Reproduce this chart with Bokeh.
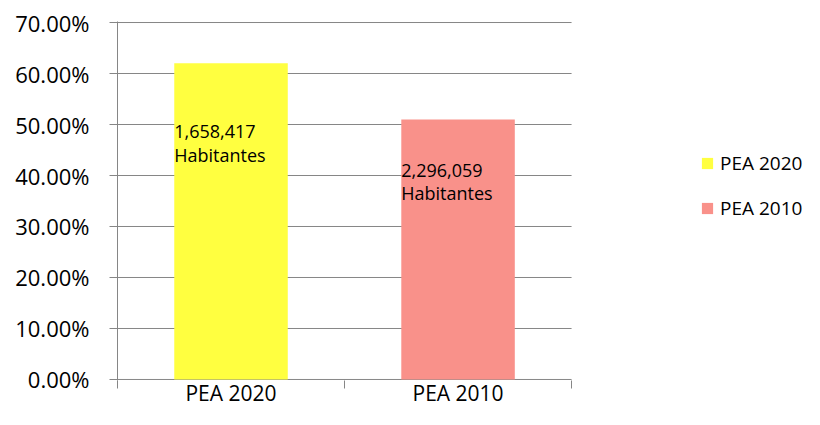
from bokeh.plotting import figure
from bokeh.models import (ColumnDataSource, Range1d, FixedTicker, NumeralTickFormatter,
                          Legend, LegendItem)
from bokeh.core.properties import value
from bokeh.embed import file_html
from bokeh.resources import INLINE

# ---- data ----
categories = ["PEA 2020", "PEA 2010"]
shares = [0.62, 0.51]
populations = ["1,658,417", "2,296,059"]
unit_label = "Habitantes"
y_ticks = [0.0, 0.1, 0.2, 0.3, 0.4, 0.5, 0.6, 0.7]

# ---- style / layout ----
bar_colors = ["#FFFF40", "#F9918A"]
BAR_W = 0.5
label_y = [0.510, 0.435]
FONT = "Open Sans"
GRAY = "#868686"
X_END = 3.026          # frame extends right to host the legend
Y_PAD = 0.002

n = len(categories)
x_pos = [i + 0.5 for i in range(n)]
src = ColumnDataSource(dict(x=x_pos, top=shares, color=bar_colors, cat=categories))

p = figure(width=804, height=409, output_backend="svg", toolbar_location=None,
           x_range=Range1d(0, X_END), y_range=Range1d(-Y_PAD, y_ticks[-1] + Y_PAD),
           min_border_left=117, min_border_right=0, min_border_top=21,
           min_border_bottom=20)
p.outline_line_color = None
p.background_fill_color = "white"
p.border_fill_color = "white"

# gridlines limited to the category area
p.xgrid.visible = False
p.ygrid.visible = False
p.segment(x0=[0] * len(y_ticks), x1=[n] * len(y_ticks), y0=y_ticks, y1=y_ticks,
          line_color=GRAY, line_width=1)

bars = p.vbar(x="x", top="top", width=BAR_W, fill_color="color", line_color=None, source=src)

p.text(x=[xp - BAR_W / 2 for xp in x_pos], y=label_y,
       text=[f"{pop}\n{unit_label}" for pop in populations],
       text_font=value(FONT), text_font_size="18px", text_color="black",
       text_baseline="top", text_align="left", text_line_height=0.98)

# x axis
xa = p.xaxis[0]
xa.ticker = FixedTicker(ticks=x_pos, minor_ticks=list(range(n + 1)))
xa.major_label_overrides = {xp: c for xp, c in zip(x_pos, categories)}
xa.major_tick_out = 0
xa.major_tick_in = 0
xa.minor_tick_out = 8
xa.minor_tick_in = 0
xa.minor_tick_line_color = GRAY
xa.axis_line_color = None
xa.major_label_text_font = FONT
xa.major_label_text_font_size = "21px"
xa.major_label_text_color = "black"
xa.major_label_standoff = -10

# y axis
ya = p.yaxis[0]
ya.ticker = FixedTicker(ticks=y_ticks)
ya.formatter = NumeralTickFormatter(format="0.00%")
ya.major_tick_out = 8
ya.major_tick_in = 0
ya.minor_tick_line_color = None
ya.major_tick_line_color = GRAY
ya.axis_line_color = GRAY
ya.major_label_text_font = FONT
ya.major_label_text_font_size = "22px"
ya.major_label_text_color = "black"
ya.major_label_standoff = 20

legend = Legend(items=[LegendItem(label=c, renderers=[bars], index=i)
                       for i, c in enumerate(categories)],
                location=(583, 159), glyph_width=14, glyph_height=14,
                label_standoff=6, spacing=19, padding=0, margin=0,
                border_line_color=None, background_fill_alpha=0,
                label_text_font=FONT, label_text_font_size="19px",
                label_text_color="black", label_height=20)
p.add_layout(legend)

open("out.html", "w").write(file_html(p, INLINE))
